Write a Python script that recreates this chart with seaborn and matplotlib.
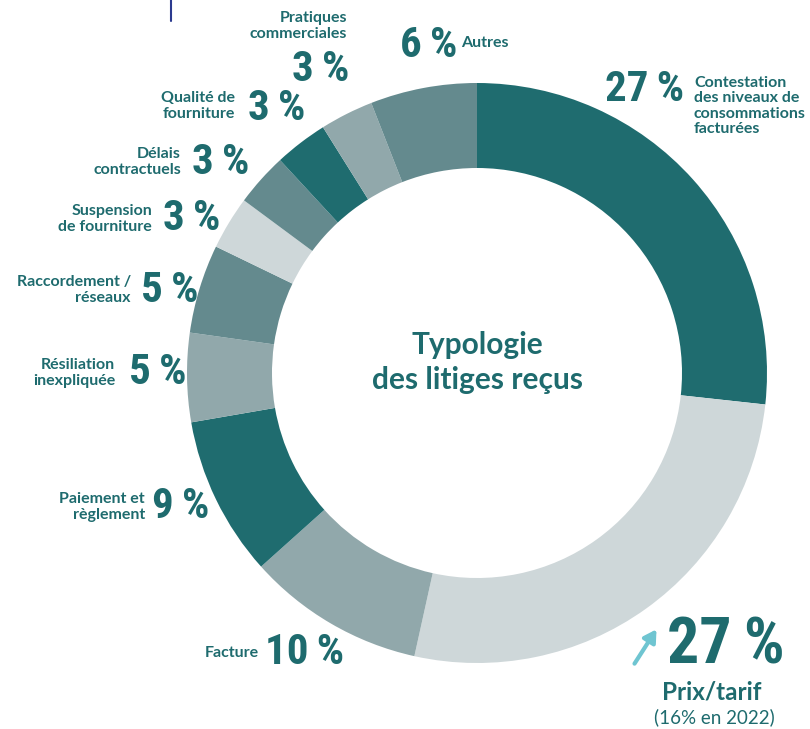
import numpy as np
import seaborn as sns
import matplotlib.pyplot as plt
from matplotlib import font_manager
from matplotlib.textpath import TextPath

# Données : typologie des litiges reçus (sens horaire depuis midi)
categories = [
    "Contestation\ndes niveaux de\nconsommations\nfacturées",
    "Prix/tarif",
    "Facture",
    "Paiement et\nrèglement",
    "Résiliation\ninexpliquée",
    "Raccordement /\nréseaux",
    "Suspension\nde fourniture",
    "Délais\ncontractuels",
    "Qualité de\nfourniture",
    "Pratiques\ncommerciales",
    "Autres",
]
shares = [27, 27, 10, 9, 5, 5, 3, 3, 3, 3, 6]
title_lines = ["Typologie", "des litiges reçus"]
prix_note = "(16% en 2022)"

DARK = "#1f6c6f"
MID = "#648a8e"
MIDLIGHT = "#91a8ab"
LIGHT = "#ced7d9"
seg_colors = [DARK, LIGHT, MIDLIGHT, DARK, MIDLIGHT, MID, LIGHT, MID, DARK, MIDLIGHT, MID]
TXT = "#1e6b6e"

W, H = 810, 729

sns.set_theme(style="white")
plt.rcParams["font.family"] = ["Lato", "DejaVu Sans"]


def pick_narrow_font():
    # police grasse la plus étroite parmi celles installées (pour les %)
    bases = ("Noto Sans", "DejaVu Sans", "Liberation Sans", "Roboto",
             "Open Sans", "Lato", "Inter")
    best = None
    for f in font_manager.fontManager.ttflist:
        if not f.name.startswith(bases) or "Mono" in f.name or "CJK" in f.name:
            continue
        if f.style != "normal" or not f.fname.lower().endswith((".ttf", ".otf")):
            continue
        wt = f.weight
        if isinstance(wt, str):
            wt = 700 if "bold" in wt.lower() else 400
        if wt < 600:
            continue
        try:
            prop = font_manager.FontProperties(fname=f.fname)
            ext = TextPath((0, 0), "27 %", prop=prop, size=100).get_extents()
            dig = TextPath((0, 0), "2", prop=prop, size=100).get_extents()
        except Exception:
            continue
        if dig.height < 30:
            continue
        ratio = ext.width / dig.height
        key = (ratio, abs(wt - 700))
        if best is None or key < best[0]:
            best = (key, f.fname)
    if best is None:
        return font_manager.FontProperties(family="DejaVu Sans", weight="bold")
    return font_manager.FontProperties(fname=best[1])


NUM_PROPS = pick_narrow_font()

fig = plt.figure(figsize=(W / 100, H / 100), dpi=100)
ax = fig.add_axes([0, 0, 1, 1])

ax.pie(
    shares,
    colors=seg_colors,
    startangle=90,
    counterclock=False,
    radius=290,
    center=(477, H - 373),
    wedgeprops=dict(width=85, edgecolor="none", linewidth=0),
    frame=True,
)
ax.set_xlim(0, W)
ax.set_ylim(0, H)
ax.set_aspect("equal")
ax.axis("off")


def y(v):
    # coordonnées image -> coordonnées axes
    return H - v


def label(x, yy, s, ha="right", size=11.5, **kw):
    return ax.text(x, y(yy), s, ha=ha, va="center", color=TXT, fontsize=size,
                   fontweight="bold", linespacing=1.15, **kw)


def number(x, yy, val, ha="left", size=31):
    props = NUM_PROPS.copy()
    props.set_size(size)
    return ax.text(x, y(yy), f"{val}\u2009%", ha=ha, va="center", color=TXT,
                   fontproperties=props)


# Titre central
ax.text(477, y(345), title_lines[0], ha="center", va="center", color=TXT,
        fontsize=21.5, fontweight="bold")
ax.text(477, y(380), title_lines[1], ha="center", va="center", color=TXT,
        fontsize=21.5, fontweight="bold")

# Contestation
number(684, 89, shares[0], ha="right")
label(694, 106, categories[0], ha="left")

# Prix/tarif
number(667, 646, shares[1], size=46)
ax.annotate("", xy=(658, y(627)), xytext=(633, y(666)),
            arrowprops=dict(arrowstyle="-|>,head_width=0.35,head_length=0.6",
                            color="#6fc5d1", lw=3))
ax.text(712, y(692), categories[1], ha="center", va="center", color=TXT,
        fontsize=17.5, fontweight="bold")
ax.text(714, y(717), prix_note, ha="center", va="center", color=TXT,
        fontsize=13.5)

# Facture
number(265, 653, shares[2])
label(259, 653, categories[2])

# Paiement
number(152, 507, shares[3])
label(145, 507, categories[3])

# Résiliation
number(129, 372, shares[4])
label(115, 373, categories[4])

# Raccordement
number(141, 290, shares[5])
label(131, 290, categories[5])

# Suspension
number(163, 218, shares[6])
label(152, 219, categories[6])

# Délais
number(192, 162, shares[7])
label(181, 162, categories[7])

# Qualité
number(248, 108, shares[8])
label(235, 106, categories[8])

# Pratiques commerciales
number(349, 69, shares[9], ha="right")
label(347, 26, categories[9])

# Autres : le libellé suit le pourcentage
t_autres = number(400, 45, shares[10])
ax.annotate(categories[10], xy=(1, 0.55), xycoords=t_autres,
            xytext=(3, 0), textcoords="offset points", ha="left", va="center",
            color=TXT, fontsize=11.5, fontweight="bold")

# petit trait bleu en haut
ax.plot([171, 171], [y(0), y(21)], color="#2b3a8f", lw=1.5)

fig.savefig("out.png", dpi=100)
plt.close(fig)
